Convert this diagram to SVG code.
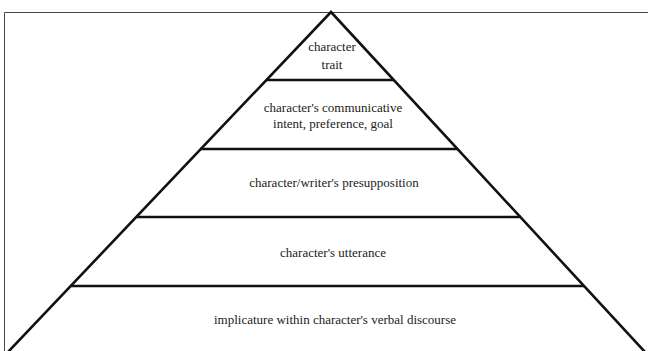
<svg xmlns="http://www.w3.org/2000/svg" width="648" height="351" viewBox="0 0 648 351">
<style>
.frame{fill:none;stroke:#444;stroke-width:1}
.edge{fill:none;stroke:#111;stroke-width:2.6;stroke-linecap:butt}
.lbl{font-family:"Liberation Serif","Times New Roman","DejaVu Serif",serif;font-size:13px;fill:#222;text-anchor:middle}
</style>
<rect width="648" height="351" fill="#fff"/>
<path class="frame" d="M4.5 351 V12.5 H648"/>
<g id="connectors">
<path class="edge" d="M8 352 L331 12 L645 352"/>
<line class="edge" x1="266" y1="80" x2="394" y2="80"/>
<line class="edge" x1="200.5" y1="149" x2="458" y2="149"/>
<line class="edge" x1="136" y1="217" x2="521" y2="217"/>
<line class="edge" x1="71" y1="286" x2="584" y2="286"/>
</g>
<g id="level1"><text class="lbl" x="332" y="51">character</text><text class="lbl" x="332" y="69">trait</text></g>
<g id="level2"><text class="lbl" x="333" y="112">character's communicative</text><text class="lbl" x="333" y="127.5">intent, preference, goal</text></g>
<g id="level3"><text class="lbl" x="334" y="187">character/writer's presupposition</text></g>
<g id="level4"><text class="lbl" x="333" y="257">character's utterance</text></g>
<g id="level5"><text class="lbl" x="335" y="324">implicature within character's verbal discourse</text></g>
</svg>
